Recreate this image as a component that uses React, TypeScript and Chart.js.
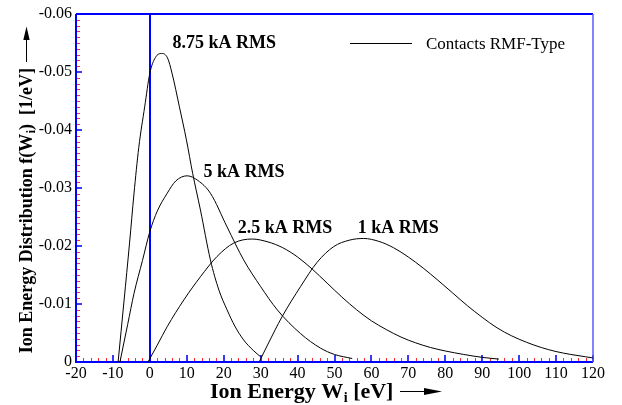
import React, { useEffect, useRef } from 'react';
import { Chart, registerables } from 'chart.js';

Chart.register(...registerables);

// ---- data ----
const xTickValues = [-20, -10, 0, 10, 20, 30, 40, 50, 60, 70, 80, 90, 100, 110, 120];
const yTickValues = [0, -0.01, -0.02, -0.03, -0.04, -0.05, -0.06];

const seriesNames = ['8.75 kA RMS', '5 kA RMS', '2.5 kA RMS', '1 kA RMS'];

const x875 = [-8.6, -7, -5.5, -4.3, -3.0, -1.4, 0, 1.5, 3.2, 4.8, 6, 8, 9.9, 11.6, 13.7, 16.4, 18.7, 20.9, 23, 25.4, 28, 30];
const y875 = [0, -0.0105, -0.0205, -0.029, -0.037, -0.044, -0.0498, -0.0525, -0.0532, -0.0524, -0.0498, -0.044, -0.0383, -0.0325, -0.0262, -0.0176, -0.0124, -0.009, -0.0062, -0.0038, -0.002, -0.0009];

const x5 = [-8.1, -6, -4.3, -2, 0, 2, 4.7, 7, 10.1, 13, 16.4, 20.9, 25.4, 30, 34.5, 40.8, 46.2, 50, 54.8];
const y5 = [0, -0.0065, -0.0118, -0.0175, -0.0225, -0.026, -0.0291, -0.0312, -0.0321, -0.0313, -0.0291, -0.0233, -0.0176, -0.013, -0.009, -0.0049, -0.0024, -0.0013, -0.0006];

const x25 = [-0.5, 2, 4.7, 9.2, 13.7, 18.2, 22.7, 27.7, 32, 36, 40, 44, 48, 52, 56, 60, 64, 68, 72, 76, 80, 85, 90, 94.5];
const y25 = [0, -0.0029, -0.0061, -0.0107, -0.0147, -0.0182, -0.0205, -0.0212, -0.0207, -0.0197, -0.0181, -0.016, -0.0136, -0.0112, -0.009, -0.0071, -0.0056, -0.0043, -0.0033, -0.0025, -0.0019, -0.0013, -0.0008, -0.0005];

const x1 = [29.6, 32, 35.8, 40.8, 45.3, 49.8, 54, 57.9, 62, 66, 70, 74, 78, 82, 86, 90, 94, 98, 102, 106, 110, 114, 118, 120];
const y1 = [0, -0.0031, -0.0078, -0.013, -0.0172, -0.0199, -0.021, -0.0213, -0.0208, -0.0197, -0.0181, -0.0162, -0.0141, -0.0119, -0.0097, -0.0077, -0.0059, -0.0045, -0.0034, -0.0025, -0.0018, -0.0013, -0.0009, -0.0007];

// label anchor positions (data coordinates)
const labelX = [6.15, 14.55, 23.8, 56.3];
const labelY = [-0.0541, -0.0319, -0.0222, -0.0222];

const seriesX = [x875, x5, x25, x1];
const seriesY = [y875, y5, y25, y1];

const SERIF = '"Liberation Serif", "Times New Roman", serif';

const decor = {
  id: 'decor',
  beforeDatasetsDraw(chart: any) {
    const { ctx, chartArea: a, scales } = chart;
    const xs = scales.x;
    const ys = scales.y;
    ctx.save();
    // minor ticks (red)
    ctx.strokeStyle = '#ff2a2a';
    ctx.lineWidth = 1;
    ctx.beginPath();
    for (let v = -20; v <= 120; v += 2) {
      if (v % 10 === 0) continue;
      const px = Math.round(xs.getPixelForValue(v)) + 0.5;
      ctx.moveTo(px, a.bottom);
      ctx.lineTo(px, a.bottom - 4);
    }
    for (let i = 1; i < 60; i++) {
      if (i % 10 === 0) continue;
      const py = Math.round(ys.getPixelForValue(-i / 1000)) + 0.5;
      ctx.moveTo(a.left, py);
      ctx.lineTo(a.left + 4, py);
    }
    ctx.stroke();
    // major ticks (blue)
    ctx.strokeStyle = '#3a3aff';
    ctx.lineWidth = 2;
    ctx.beginPath();
    for (const v of xTickValues) {
      const px = Math.round(xs.getPixelForValue(v));
      ctx.moveTo(px, a.bottom);
      ctx.lineTo(px, a.bottom - 7);
    }
    for (const v of yTickValues) {
      const py = Math.round(ys.getPixelForValue(v));
      ctx.moveTo(a.left, py);
      ctx.lineTo(a.left + 6, py);
    }
    ctx.stroke();
    // frame
    ctx.strokeStyle = '#0000ff';
    ctx.lineWidth = 2;
    ctx.beginPath();
    ctx.moveTo(a.left, a.top);
    ctx.lineTo(a.left, a.bottom);
    ctx.lineTo(a.right, a.bottom);
    ctx.moveTo(a.left, a.top);
    ctx.lineTo(a.right, a.top);
    ctx.stroke();
    ctx.strokeStyle = '#5a5aff';
    ctx.lineWidth = 1.5;
    ctx.beginPath();
    ctx.moveTo(a.right, a.top);
    ctx.lineTo(a.right, a.bottom);
    ctx.stroke();
    // zero line
    ctx.strokeStyle = '#0000ff';
    ctx.lineWidth = 2;
    const zx = Math.round(xs.getPixelForValue(0));
    ctx.beginPath();
    ctx.moveTo(zx, a.top);
    ctx.lineTo(zx, a.bottom);
    ctx.stroke();
    ctx.restore();
  },
  afterDraw(chart: any) {
    const { ctx, chartArea: a, scales } = chart;
    const xs = scales.x;
    const ys = scales.y;
    ctx.save();
    ctx.fillStyle = '#000';
    ctx.strokeStyle = '#000';
    ctx.textBaseline = 'alphabetic';
    ctx.textAlign = 'left';

    // curve labels
    ctx.font = `bold 18px ${SERIF}`;
    seriesNames.forEach((n, i) => {
      ctx.fillText(n, xs.getPixelForValue(labelX[i]), ys.getPixelForValue(labelY[i]));
    });

    // legend
    ctx.lineWidth = 1;
    ctx.beginPath();
    ctx.moveTo(350, a.top + 29.5);
    ctx.lineTo(412, a.top + 29.5);
    ctx.stroke();
    ctx.font = `17px ${SERIF}`;
    ctx.fillText('Contacts RMF-Type', 426, a.top + 35);

    // x title
    let cx = 210;
    const by = 398;
    ctx.font = `bold 22px ${SERIF}`;
    ctx.fillText('Ion Energy W', cx, by);
    cx += ctx.measureText('Ion Energy W').width;
    ctx.font = `bold 14px ${SERIF}`;
    ctx.fillText('i', cx + 0.5, by + 4);
    cx += ctx.measureText('i').width + 0.5;
    ctx.font = `bold 22px ${SERIF}`;
    ctx.fillText(' [eV]', cx, by);
    // x arrow
    ctx.lineWidth = 1;
    ctx.beginPath();
    ctx.moveTo(400, 391.5);
    ctx.lineTo(426, 391.5);
    ctx.stroke();
    ctx.beginPath();
    ctx.moveTo(442, 391.5);
    ctx.lineTo(424, 388);
    ctx.lineTo(424, 395);
    ctx.closePath();
    ctx.fill();

    // y title (rotated)
    ctx.save();
    ctx.translate(31.5, 0);
    ctx.rotate(-Math.PI / 2);
    const p1 = 'Ion Energy Distribution f(W';
    const p2 = 'i';
    const p3 = ')  [1/eV]';
    ctx.font = `bold 18px ${SERIF}`;
    const w1 = ctx.measureText(p1).width;
    const w3 = ctx.measureText(p3).width;
    ctx.font = `bold 12px ${SERIF}`;
    const w2 = ctx.measureText(p2).width;
    const total = w1 + w2 + w3 + 0.5;
    let ty = -(68 + total);
    ctx.font = `bold 18px ${SERIF}`;
    ctx.fillText(p1, ty, 0);
    ty += w1 + 0.5;
    ctx.font = `bold 12px ${SERIF}`;
    ctx.fillText(p2, ty, 3.5);
    ty += w2;
    ctx.font = `bold 18px ${SERIF}`;
    ctx.fillText(p3, ty, 0);
    ctx.restore();
    // y arrow
    ctx.lineWidth = 1;
    ctx.beginPath();
    ctx.moveTo(26.5, 62);
    ctx.lineTo(26.5, 38);
    ctx.stroke();
    ctx.beginPath();
    ctx.moveTo(26.5, 26.5);
    ctx.lineTo(23.3, 40);
    ctx.lineTo(29.7, 40);
    ctx.closePath();
    ctx.fill();

    ctx.restore();
  },
};

export default function App() {
  const ref = useRef<HTMLCanvasElement>(null);
  useEffect(() => {
    const datasets = seriesNames.map((n, i) => ({
      label: n,
      data: seriesX[i].map((xv, j) => ({ x: xv, y: seriesY[i][j] })),
      showLine: true,
      borderColor: '#000',
      borderWidth: 1,
      pointRadius: 0,
      fill: false,
      cubicInterpolationMode: 'monotone' as const,
    }));
    const chart = new Chart(ref.current!, {
      type: 'scatter',
      data: { datasets },
      plugins: [decor],
      options: {
        animation: false,
        responsive: true,
        maintainAspectRatio: false,
        layout: { padding: { left: 0, top: 14, right: 29, bottom: 0 } },
        plugins: { legend: { display: false }, tooltip: { enabled: false } },
        scales: {
          x: {
            type: 'linear',
            min: -20,
            max: 120,
            grid: { display: false, drawTicks: false },
            border: { display: false },
            afterBuildTicks: (s: any) => {
              s.ticks = xTickValues.map((v) => ({ value: v }));
            },
            afterFit: (s: any) => {
              s.height = 43;
            },
            ticks: {
              padding: 2,
              maxRotation: 0,
              autoSkip: false,
              color: '#000',
              font: { family: SERIF, size: 16 },
              callback: (v: any) => String(v),
            },
          },
          y: {
            type: 'linear',
            min: -0.06,
            max: 0,
            reverse: true,
            grid: { display: false, drawTicks: false },
            border: { display: false },
            afterBuildTicks: (s: any) => {
              s.ticks = yTickValues.map((v) => ({ value: v }));
            },
            afterFit: (s: any) => {
              s.width = 76;
            },
            ticks: {
              padding: 4,
              autoSkip: false,
              color: '#000',
              font: { family: SERIF, size: 16 },
              callback: (v: any) => (Math.abs(Number(v)) < 1e-9 ? '0' : Number(v).toFixed(2)),
            },
          },
        },
      },
    });
    return () => chart.destroy();
  }, []);
  return (
    <div style={{ position: 'fixed', left: 0, top: 0, width: 622, height: 405, background: '#fff' }}>
      <canvas ref={ref} />
    </div>
  );
}
